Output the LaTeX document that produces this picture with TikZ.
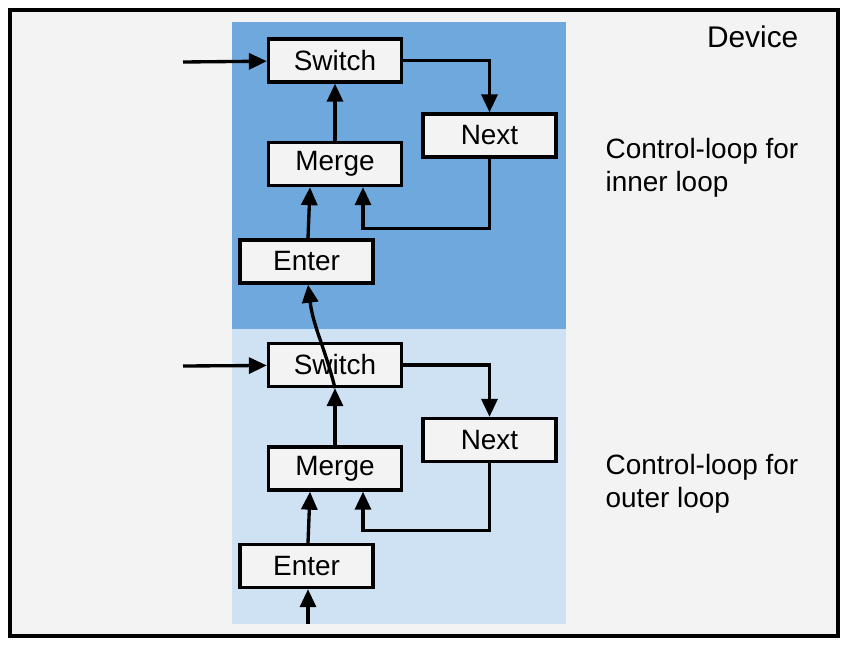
\documentclass[tikz,border=0pt]{standalone}
\usepackage{fontspec}
\setmainfont{Liberation Sans}
\usepackage{tikz}
\usetikzlibrary{arrows.meta}
\definecolor{devgray}{HTML}{F3F3F3}
\definecolor{innerblue}{HTML}{6FA8DC}
\definecolor{outerblue}{HTML}{CFE2F3}
\begin{document}
\begin{tikzpicture}[x=0.02cm, y=-0.02cm, line width=1.9pt,
  >={Triangle[length=0.36cm,width=0.32cm]},
  opbox/.style={draw, fill=devgray, minimum width=2.66cm, minimum height=0.86cm, inner sep=0pt,
    font=\fontsize{15.9}{18.7}\selectfont},
  looptext/.style={anchor=west, align=left, inner sep=0pt, font=\fontsize{15.9}{18.7}\selectfont},]
\useasboundingbox (0,0) rectangle (848,653);
\draw[fill=devgray] (10,10) rectangle (838,636);
\fill[innerblue] (232,22) rectangle (566,329);
\fill[outerblue] (232,329) rectangle (566,624);
% inner loop
\node[opbox] (1) at (335, 60.5)  {Switch};
\node[opbox] (2) at (489.5, 135.5)  {Next};
\node[opbox] (3) at (335, 164)  {Merge};
\node[opbox] (4) at (306.5, 261.5)  {Enter};
% outer loop
\node[opbox] (5) at (335, 365)  {Switch};
\node[opbox] (6) at (489.5, 440)  {Next};
\node[opbox] (7) at (335, 468.5)  {Merge};
\node[opbox] (8) at (306.5, 566)  {Enter};
\node[anchor=east, inner sep=0pt, font=\fontsize{17}{20}\selectfont] (9) at (800, 37) {Device};
\node[looptext] (10) at (604, 168) {Control-loop for\\inner loop};
\node[looptext] (11) at (604, 484) {Control-loop for\\outer loop};
\coordinate (a) at (183, 62);
\coordinate (b) at (183, 366);
\coordinate (c) at (308, 624);
 \draw [->] (a)--(1);
 \draw [->] (1.east) -| (2.north);
  \draw [->] (3)--(1);
  \draw [->] (2.south) -- ++(0,70) -| ([xshift=0.56cm]3.south);
   \draw [->] ([xshift=0.03cm]4.north)--([xshift=-0.5cm]3.south);
 \draw [->] (b)--(5);
 \draw [->] (5.east) -| (6.north);
  \draw [->] (7)--(5);
  \draw [->] (6.south) -- ++(0,67) -| ([xshift=0.56cm]7.south);
   \draw [->] ([xshift=0.03cm]8.north)--([xshift=-0.5cm]7.south);
   \draw [->] (c)--(c |- 8.south);
   \draw [->] (5.south) to[out=104, in=-83] ([xshift=0.03cm]4.south);
  \end{tikzpicture}
\end{document}
